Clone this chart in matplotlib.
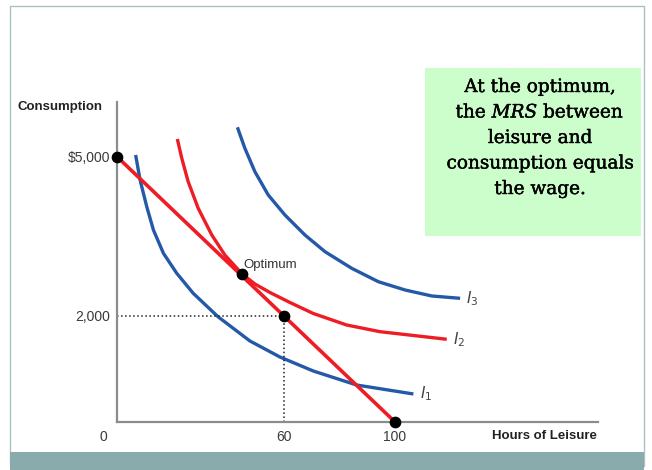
import numpy as np
import matplotlib
matplotlib.use('Agg')
import matplotlib.pyplot as plt
import matplotlib.patheffects as pe
from matplotlib.patches import Rectangle

# budget line end points (hours of leisure, consumption)
budget_x = [0, 100]
budget_y = [5000, 0]

# indifference curves
i1_x = [6.7, 8.3, 10.7, 13.1, 16.7, 21.5, 27.4, 36.3, 47.8, 58.6, 70.6, 86.2, 106.6]
i1_y = [5032, 4561, 4058, 3619, 3179, 2802, 2426, 1985, 1527, 1225, 961, 697, 528]

i2_x = [21.7, 23.3, 25.6, 29.2, 34.1, 38.8, 45.0, 49.6, 55.0, 62.2, 70.6, 82.6, 94.6, 118.6]
i2_y = [5334, 4970, 4529, 4028, 3524, 3147, 2790, 2601, 2441, 2252, 2045, 1828, 1702, 1559]

i3_x = [43.3, 46.0, 49.6, 54.4, 60.4, 67.6, 74.8, 84.4, 94.0, 103.6, 113.2, 123.4]
i3_y = [5554, 5158, 4717, 4278, 3901, 3524, 3210, 2897, 2644, 2488, 2375, 2331]

dots_x = [0, 45, 60, 100]
dots_y = [5000, 2790, 2000, 0]

opt_x, opt_y = 60, 2000

W, H = 652, 470
fig = plt.figure(figsize=(W / 100, H / 100), dpi=100)
fig.patch.set_facecolor('white')

def px(x, y, w, h):
    # pixel box -> figure fraction
    return (x / W, 1 - (y + h) / H, w / W, h / H)

# slide frame and bottom band
l, b, w, h = px(10, 6, 634, 460)
fig.patches.append(Rectangle((l, b), w, h, transform=fig.transFigure,
                             facecolor='none', edgecolor='#a9c2c2', lw=1))
l, b, w, h = px(10, 452, 634, 18)
fig.patches.append(Rectangle((l, b), w, h, transform=fig.transFigure,
                             facecolor='#8aabab', edgecolor='none'))

ax = fig.add_axes(px(117, 101.5, 481, 320.5))
ax.set_xlim(0, 173)
ax.set_ylim(0, 6040)
ax.patch.set_alpha(0)

red = '#ee1c24'
blue = '#2459a8'
ax.plot(i1_x, i1_y, color=blue, lw=2.4, solid_capstyle='butt', solid_joinstyle='round')
ax.plot(i3_x, i3_y, color=blue, lw=2.4, solid_capstyle='butt', solid_joinstyle='round')
ax.plot(i2_x, i2_y, color=red, lw=2.4, solid_capstyle='butt', solid_joinstyle='round')
ax.plot(budget_x, budget_y, color=red, lw=2.6, solid_capstyle='butt')

ax.plot([0, opt_x], [opt_y, opt_y], color='#222222', lw=1.1, ls=':')
ax.plot([opt_x, opt_x], [0, opt_y], color='#222222', lw=1.1, ls=':')

ax.scatter(dots_x, dots_y, s=55, color='black', zorder=5, clip_on=False)

for s in ['top', 'right']:
    ax.spines[s].set_visible(False)
for s in ['left', 'bottom']:
    ax.spines[s].set_color('#8c8c8c')
    ax.spines[s].set_linewidth(1.6)

lab_font = 'Liberation Sans'
ax.set_xticks([60, 100])
ax.set_xticklabels(['60', '100'])
ax.set_yticks([2000, 5000])
ax.set_yticklabels(['2,000', '$5,000'])
ax.tick_params(axis='x', length=0, labelsize=10, labelcolor='#3a3a3a', pad=6)
ax.tick_params(axis='y', length=0, labelsize=10, labelcolor='#3a3a3a', pad=5)
for t in ax.get_xticklabels() + ax.get_yticklabels():
    t.set_fontfamily(lab_font)
ax.annotate('0', xy=(-5, 0), xytext=(0, -6), textcoords='offset points',
            ha='center', va='top', fontsize=10, color='#3a3a3a',
            family=lab_font, annotation_clip=False)

ax.text(45.5, 2850, 'Optimum', fontsize=9.5, color='#333333',
        family=lab_font, va='bottom', ha='left')

ax.text(125.5, 2230, r'$I_3$', fontsize=11, color='#444444', math_fontfamily='dejavusans')
ax.text(121.0, 1470, r'$I_2$', fontsize=11, color='#444444', math_fontfamily='dejavusans')
ax.text(109.0, 440, r'$I_1$', fontsize=11, color='#444444', math_fontfamily='dejavusans')

fig.text(18 / W, 1 - 107 / H, 'Consumption', fontsize=9.5, fontweight='bold',
         family=lab_font, color='#222222', va='center', ha='left')
fig.text(597 / W, 1 - 436 / H, 'Hours of Leisure', fontsize=9.5, fontweight='bold',
         family=lab_font, color='#222222', va='center', ha='right')

# green note box
l, b, w, h = px(425, 68, 216, 168)
fig.patches.append(Rectangle((l, b), w, h, transform=fig.transFigure,
                             facecolor='#ccfecb', edgecolor='none'))
note = ['At the optimum,', r'the $\mathit{MRS}$ between', 'leisure and',
        'consumption equals', 'the wage.']
for k, line in enumerate(note):
    fig.text(540 / W, 1 - (87 + 25.5 * k) / H, line, fontsize=13.3,
             family='DejaVu Serif', math_fontfamily='dejavuserif',
             color='black', ha='center', va='center',
             path_effects=[pe.withStroke(linewidth=0.3, foreground='black')])

fig.savefig('out.png', dpi=100)
